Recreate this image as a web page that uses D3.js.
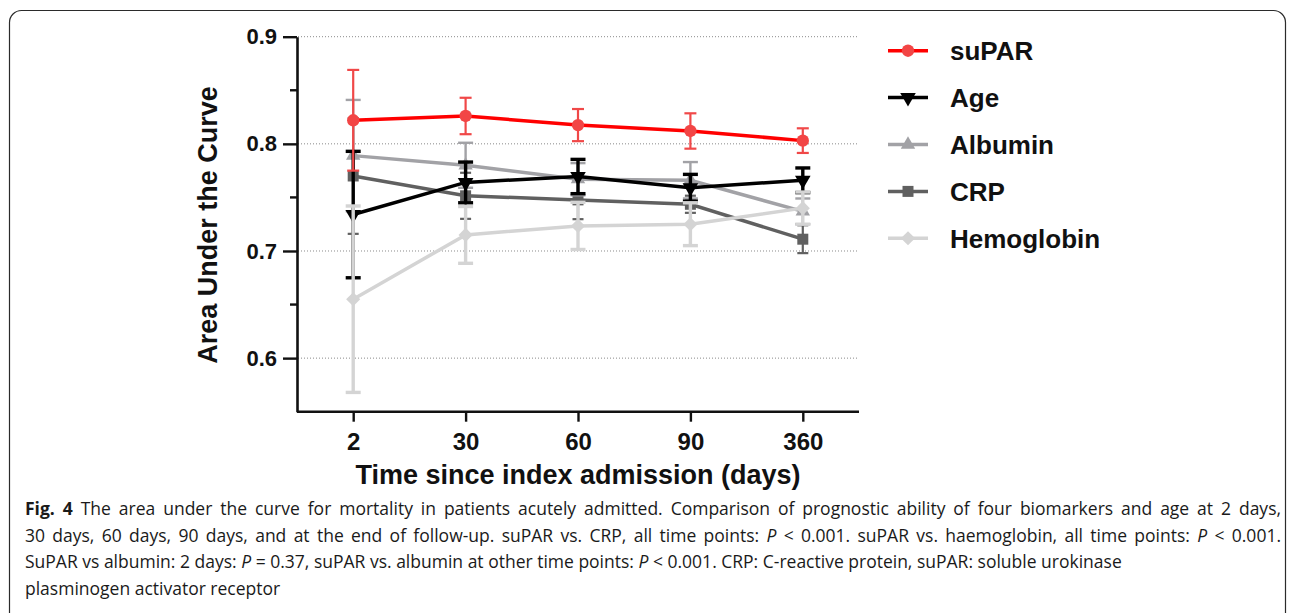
<!DOCTYPE html>
<html>
<head>
<meta charset="utf-8">
<script src="https://cdn.jsdelivr.net/npm/d3@7"></script>
<style>
  html, body { margin: 0; padding: 0; background: #fff; }
  svg { display: block; }
</style>
</head>
<body>
<div id="chart"></div>
<script>
const timePoints = ["2", "30", "60", "90", "360"];

const supar = [0.822, 0.826, 0.8175, 0.812, 0.803];
const suparErr = [0.047, 0.017, 0.015, 0.0165, 0.0115];

const age = [0.734, 0.764, 0.7695, 0.759, 0.766];
const ageErr = [0.059, 0.019, 0.016, 0.0125, 0.0115];

const albumin = [0.789, 0.780, 0.767, 0.766, 0.737];
const albuminErr = [0.052, 0.021, 0.015, 0.017, 0.012];

const crp = [0.770, 0.7515, 0.7477, 0.7436, 0.711];
const crpErr = [0.054, 0.0215, 0.018, 0.008, 0.013];

const hemoglobin = [0.655, 0.715, 0.7234, 0.725, 0.740];
const hemoglobinErr = [0.087, 0.0265, 0.022, 0.020, 0.015];

const yTicks = [0.6, 0.7, 0.8, 0.9];
const yMinorTicks = [0.65, 0.75, 0.85];

const width = 1292;
const height = 613;

const svg = d3.select("#chart")
    .append("svg")
    .attr("width", width)
    .attr("height", height);

// figure frame (rounded, runs off the bottom)
svg.append("rect")
    .attr("x", 9.5)
    .attr("y", 10.5)
    .attr("width", 1276)
    .attr("height", 640)
    .attr("rx", 12)
    .attr("fill", "none")
    .attr("stroke", "#2b2b2b")
    .attr("stroke-width", 1.2);

const x = d3.scalePoint()
    .domain(timePoints)
    .range([297, 859])
    .padding(0.5);

const y = d3.scaleLinear()
    .domain([0.55, 0.9])
    .range([411.7, 36.7]);

// dotted gridlines
svg.append("g")
    .selectAll("line")
    .data(yTicks)
    .enter()
    .append("line")
    .attr("x1", 298)
    .attr("x2", 859)
    .attr("y1", d => y(d))
    .attr("y2", d => y(d))
    .attr("stroke", "#8a8a8a")
    .attr("stroke-width", 1)
    .attr("stroke-dasharray", "1,2");

// y axis
const yAxis = svg.append("g")
    .attr("transform", "translate(297,0)")
    .call(d3.axisLeft(y).tickValues(yTicks).tickSize(14).tickSizeOuter(0).tickFormat(d3.format(".1f")));
yAxis.select(".domain").attr("stroke", "#111").attr("stroke-width", 2.6);
yAxis.selectAll(".tick line").attr("stroke", "#111").attr("stroke-width", 2.4);
yAxis.selectAll(".tick text")
    .attr("x", -20)
    .attr("fill", "#111")
    .style("font-family", "'Liberation Sans', Arial, sans-serif")
    .style("font-weight", "bold")
    .style("font-size", "22px");

svg.append("g")
    .selectAll("line")
    .data(yMinorTicks)
    .enter()
    .append("line")
    .attr("x1", 290)
    .attr("x2", 297)
    .attr("y1", d => y(d))
    .attr("y2", d => y(d))
    .attr("stroke", "#111")
    .attr("stroke-width", 2.4);

// x axis
const xAxis = svg.append("g")
    .attr("transform", `translate(0,${y(0.55)})`)
    .call(d3.axisBottom(x).tickSize(10).tickSizeOuter(0));
xAxis.select(".domain").attr("d", "M297,0H859").attr("stroke", "#111").attr("stroke-width", 2.6);
xAxis.selectAll(".tick line").attr("stroke", "#111").attr("stroke-width", 2.4);
xAxis.selectAll(".tick text")
    .attr("y", 21)
    .attr("dy", "0.71em")
    .attr("fill", "#111")
    .style("font-family", "'Liberation Sans', Arial, sans-serif")
    .style("font-weight", "bold")
    .style("font-size", "24px");

// axis titles
svg.append("text")
    .attr("x", 578)
    .attr("y", 484)
    .attr("text-anchor", "middle")
    .attr("fill", "#111")
    .style("font-family", "'Liberation Sans', Arial, sans-serif")
    .style("font-weight", "bold")
    .style("font-size", "27px")
    .text("Time since index admission (days)");

svg.append("text")
    .attr("transform", "translate(217,225) rotate(-90)")
    .attr("text-anchor", "middle")
    .attr("fill", "#111")
    .style("font-family", "'Liberation Sans', Arial, sans-serif")
    .style("font-weight", "bold")
    .style("font-size", "27px")
    .text("Area Under the Curve");

// series, drawn bottom to top
const series = [
    { name: "CRP", values: crp, errs: crpErr, line: "#606060", mark: "#606060", bar: "#606060",
      symbol: d3.symbolSquare, size: 121, rotate: 0, barWidth: 2.2, cap: 11 },
    { name: "Albumin", values: albumin, errs: albuminErr, line: "#a2a2a6", mark: "#a2a2a6", bar: "#a2a2a6",
      symbol: d3.symbolTriangle, size: 90, rotate: 0, barWidth: 2.4, cap: 15 },
    { name: "Age", values: age, errs: ageErr, line: "#000", mark: "#000", bar: "#000",
      symbol: d3.symbolTriangle, size: 105, rotate: 180, barWidth: 3.4, cap: 15 },
    { name: "Hemoglobin", values: hemoglobin, errs: hemoglobinErr, line: "#d4d4d4", mark: "#d4d4d4", bar: "#d4d4d4",
      symbol: d3.symbolSquare, size: 100, rotate: 45, barWidth: 3.4, cap: 15 },
    { name: "suPAR", values: supar, errs: suparErr, line: "#ff0000", mark: "#f24545", bar: "#f04848",
      symbol: d3.symbolCircle, size: 120, rotate: 0, barWidth: 2.2, cap: 12 }
];

const line = d3.line()
    .x(d => x(d.t))
    .y(d => y(d.v));

series.forEach(s => {
    const pts = timePoints.map((t, i) => ({ t: t, v: s.values[i], e: s.errs[i] }));
    const g = svg.append("g").attr("class", "series");

    const bars = g.selectAll(".err")
        .data(pts)
        .enter()
        .append("g")
        .attr("class", "err")
        .attr("stroke", s.bar)
        .attr("stroke-width", s.barWidth);
    bars.append("line")
        .attr("x1", d => x(d.t))
        .attr("x2", d => x(d.t))
        .attr("y1", d => y(d.v + d.e))
        .attr("y2", d => y(d.v - d.e));
    bars.append("line")
        .attr("x1", d => x(d.t) - s.cap / 2)
        .attr("x2", d => x(d.t) + s.cap / 2)
        .attr("y1", d => y(d.v + d.e))
        .attr("y2", d => y(d.v + d.e));
    bars.append("line")
        .attr("x1", d => x(d.t) - s.cap / 2)
        .attr("x2", d => x(d.t) + s.cap / 2)
        .attr("y1", d => y(d.v - d.e))
        .attr("y2", d => y(d.v - d.e));

    g.append("path")
        .datum(pts)
        .attr("d", line)
        .attr("fill", "none")
        .attr("stroke", s.line)
        .attr("stroke-width", 3.5);

    g.selectAll(".mark")
        .data(pts)
        .enter()
        .append("path")
        .attr("class", "mark")
        .attr("d", d3.symbol().type(s.symbol).size(s.size))
        .attr("transform", d => `translate(${x(d.t)},${y(d.v)}) rotate(${s.rotate})`)
        .attr("fill", s.mark);
});

// legend
const legendOrder = ["suPAR", "Age", "Albumin", "CRP", "Hemoglobin"];
const legend = svg.append("g").attr("class", "legend");
legendOrder.forEach((name, i) => {
    const s = series.find(d => d.name === name);
    const cy = 50.7 + i * 46.9;
    const item = legend.append("g").attr("transform", `translate(0,${cy})`);
    item.append("line")
        .attr("x1", 888)
        .attr("x2", 928)
        .attr("stroke", s.line)
        .attr("stroke-width", 3.5);
    item.append("path")
        .attr("d", d3.symbol().type(s.symbol).size(s.size))
        .attr("transform", `translate(908,0) rotate(${s.rotate})`)
        .attr("fill", s.mark);
    item.append("text")
        .attr("x", 950)
        .attr("dy", "0.36em")
        .attr("fill", "#111")
        .style("font-family", "'Liberation Sans', Arial, sans-serif")
        .style("font-weight", "bold")
        .style("font-size", "26px")
        .text(name);
});

// caption
const captionLines = [
    [["Fig. 4", "b"], [" The area under the curve for mortality in patients acutely admitted. Comparison of prognostic ability of four biomarkers and age at 2 days,", ""]],
    [["30 days, 60 days, 90 days, and at the end of follow-up. suPAR vs. CRP, all time points: ", ""], ["P", "i"], [" < 0.001. suPAR vs. haemoglobin, all time points: ", ""], ["P", "i"], [" < 0.001.", ""]],
    [["SuPAR vs albumin: 2 days: ", ""], ["P", "i"], [" = 0.37, suPAR vs. albumin at other time points: ", ""], ["P", "i"], [" < 0.001. CRP: C-reactive protein, suPAR: soluble urokinase", ""]],
    [["plasminogen activator receptor", ""]]
];

const caption = svg.append("g")
    .style("font-family", "'Open Sans', sans-serif")
    .style("font-size", "17.5px")
    .attr("fill", "#1a1a1a");

captionLines.forEach((parts, i) => {
    const t = caption.append("text")
        .attr("x", 25)
        .attr("y", 515 + i * 26.5)
        .attr("xml:space", "preserve");
    parts.forEach(p => {
        t.append("tspan")
            .style("font-weight", p[1] === "b" ? "bold" : "normal")
            .style("font-style", p[1] === "i" ? "italic" : "normal")
            .text(p[0]);
    });
    // the two full lines reach the frame's right side
    if (i < 2) {
        const w = t.node().getComputedTextLength();
        const gaps = parts.map(p => p[0]).join("").split(" ").length - 1;
        t.style("word-spacing", Math.max(0, (1256 - w) / gaps) + "px");
    }
});
</script>
</body>
</html>
